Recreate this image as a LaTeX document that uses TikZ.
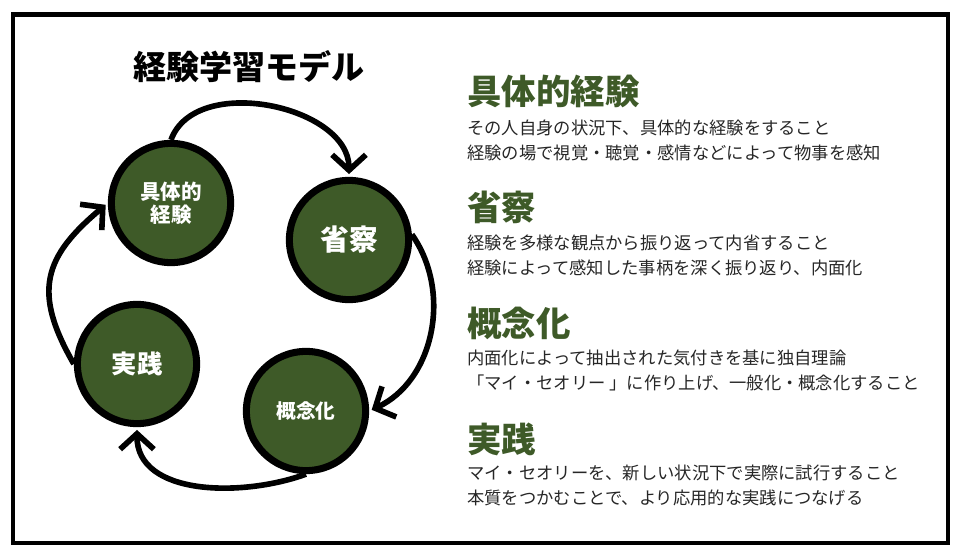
\documentclass[tikz,border=0pt]{standalone}
\usepackage{fontspec}
\setmainfont{Noto Sans CJK JP}
\usetikzlibrary{arrows.meta}
\definecolor{moss}{RGB}{62,90,40}
\definecolor{ink}{RGB}{38,38,38}
\tikzset{
  stage/.style={circle, draw=black, line width=5pt, fill=moss, minimum size=2.98cm, inner sep=0pt, text=white, align=center},
  cyc/.style={line width=4pt, shorten >=2pt, -{Straight Barb[length=11pt,width=24pt]}},
  head/.style={anchor=west, inner sep=0pt, text=moss, font=\fontsize{24.5}{28}\selectfont\bfseries},
  desc/.style={anchor=west, inner sep=0pt, text=ink, align=left, font=\fontsize{12.3}{17.7}\selectfont}
}

\begin{document}
\begin{tikzpicture}[x=0.025cm,y=0.025cm]
  \useasboundingbox (0,0) rectangle (960,555);
  \draw[line width=3pt] (13,12) rectangle (948,540.5);

  \node[font=\fontsize{23.5}{26}\selectfont\bfseries] (title) at (249,488) {経験学習モデル};

  \node[stage, font=\fontsize{14.6}{16.3}\selectfont\bfseries] (exper) at (171,352) {具体的\\経験};
  \node[stage, font=\fontsize{20.5}{24}\selectfont\bfseries] (reflect) at (349,315) {省察};
  \node[stage, font=\fontsize{14}{17}\selectfont\bfseries] (concept) at (306,144) {概念化};
  \node[stage, font=\fontsize{18}{22}\selectfont\bfseries] (practice) at (137,191) {実践};

  \draw[cyc] (exper.north) to[out=70,in=90] (reflect.north);
  \draw[cyc] (reflect.5) to[out=-55,in=25] (concept.east);
  \draw[cyc] (concept.south) to[out=200,in=-90] (practice.south);
  \draw[cyc] (practice.west) to[out=120,in=220,looseness=1.3] (exper.west);

  \node[head] (h1) at (467,464) {具体的経験};
  \node[desc] (d1) at (467,414.5) {その人自身の状況下、具体的な経験をすること\\経験の場で視覚・聴覚・感情などによって物事を感知};
  \node[head] (h2) at (467,348) {省察};
  \node[desc] (d2) at (467,300) {経験を多様な観点から振り返って内省すること\\経験によって感知した事柄を深く振り返り、内面化};
  \node[head] (h3) at (467,232) {概念化};
  \node[desc] (d3) at (467,184.5) {内面化によって抽出された気付きを基に独自理論\\「マイ・セオリー 」に作り上げ、一般化・概念化すること};
  \node[head] (h4) at (467,116) {実践};
  \node[desc] (d4) at (467,69.5) {マイ・セオリーを、新しい状況下で実際に試行すること\\本質をつかむことで、より応用的な実践につなげる};
\end{tikzpicture}
\end{document}
